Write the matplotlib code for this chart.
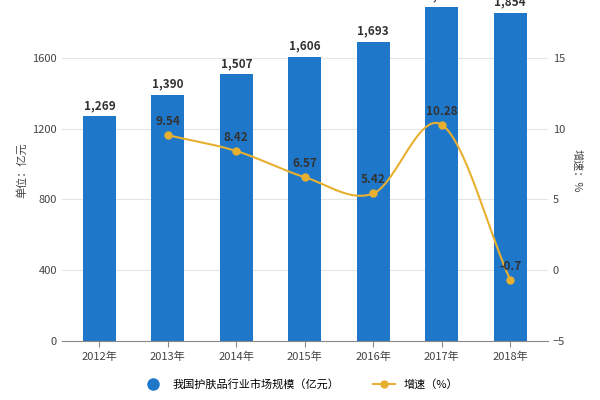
import matplotlib
matplotlib.use("Agg")
import matplotlib.pyplot as plt
import numpy as np
from matplotlib.lines import Line2D

plt.rcParams['font.family'] = ['Noto Sans CJK SC', 'DejaVu Sans']

years = ["2012年", "2013年", "2014年", "2015年", "2016年", "2017年", "2018年"]
market = [1269, 1390, 1507, 1606, 1693, 1887, 1854]
growth_years_idx = [1, 2, 3, 4, 5, 6]
growth = [9.54, 8.42, 6.57, 5.42, 10.28, -0.7]

blue = "#1f77c9"
gold = "#e8b030"

fig = plt.figure(figsize=(6, 4), dpi=100)
ax = fig.add_axes([0.103, 0.148, 0.81, 0.852])
ax2 = ax.twinx()

x = np.arange(len(years))
ax.bar(x, market, width=0.48, color=blue, zorder=2)
for xi, v in zip(x, market):
    ax.text(xi, v + 25, f"{v:,}", ha='center', va='bottom', fontsize=8.5,
            fontweight='bold', color='#333333')
ax.set_ylim(0, 1928)
ax.set_xlim(-0.55, 6.55)
ax.set_yticks([0, 400, 800, 1200, 1600])
ax.set_xticks(x)
ax.set_xticklabels(years)
ax.set_ylabel("单位：亿元", fontsize=8, color='#444444')
ax.grid(axis='y', color='#e5e5e5', lw=0.8, zorder=0)
for s in ['top', 'right', 'left']:
    ax.spines[s].set_visible(False)
ax.spines['bottom'].set_color('#888888')
ax.tick_params(axis='both', labelsize=8, colors='#444444', length=0)
ax.tick_params(axis='x', length=4, color='#888888')

# smooth curve through points (Catmull-Rom for display)
gx = np.array(growth_years_idx, float)
gy = np.array(growth, float)
px = np.concatenate([[2*gx[0]-gx[1]], gx, [2*gx[-1]-gx[-2]]])
py = np.concatenate([[2*gy[0]-gy[1]], gy, [2*gy[-1]-gy[-2]]])
sx, sy = [], []
t = np.linspace(0, 1, 30)
for i in range(1, len(px) - 2):
    for arr, out in ((px, sx), (py, sy)):
        p0, p1, p2, p3 = arr[i-1], arr[i], arr[i+1], arr[i+2]
        out.extend(0.5*((2*p1) + (-p0+p2)*t + (2*p0-5*p1+4*p2-p3)*t**2 + (-p0+3*p1-3*p2+p3)*t**3))
ax2.plot(sx, sy, color=gold, lw=1.5, zorder=3)
ax2.plot(gx, gy, 'o', color=gold, ms=5, zorder=4)
for xi, v in zip(gx, gy):
    ax2.text(xi, v + 0.5, f"{v:g}", ha='center', va='bottom', fontsize=8.5,
             fontweight='bold', color='#333333')
ax2.set_ylim(-5, 19.1)
ax2.set_yticks([-5, 0, 5, 10, 15])
ax2.set_ylabel("增速：%", fontsize=8, color='#444444', rotation=270, labelpad=12)
for s in ['top', 'right', 'left', 'bottom']:
    ax2.spines[s].set_visible(False)
ax2.tick_params(axis='y', labelsize=8, colors='#444444', length=0)

handles = [Line2D([], [], marker='o', ls='none', color=blue, ms=8),
           Line2D([], [], marker='o', color=gold, ms=5, lw=1.5)]
fig.legend(handles, ["我国护肤品行业市场规模（亿元）", "增速（%）"], loc='lower center',
           bbox_to_anchor=(0.5, 0.0), ncol=2, frameon=False, fontsize=8, columnspacing=3)

fig.savefig("out.png", dpi=100)
